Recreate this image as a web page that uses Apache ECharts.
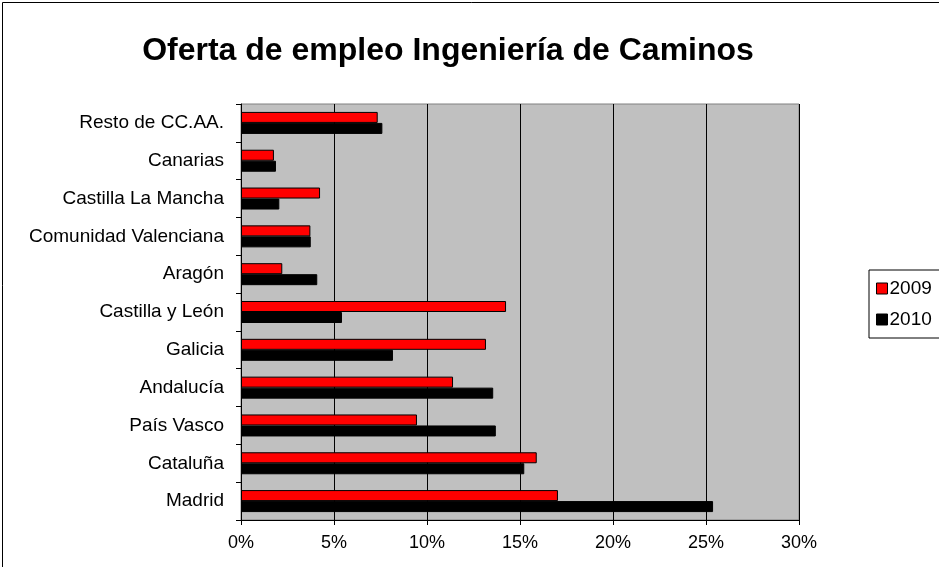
<!DOCTYPE html>
<html>
<head>
<meta charset="utf-8">
<script src="https://cdn.jsdelivr.net/npm/echarts@6/dist/echarts.min.js"></script>
<style>
  html, body { margin: 0; padding: 0; background: #fff; }
  #myChart { width: 939px; height: 567px; }
</style>
</head>
<body>
<div id="myChart"></div>
<script>
// categorias, de arriba a abajo
let regiones = ['Resto de CC.AA.', 'Canarias', 'Castilla La Mancha', 'Comunidad Valenciana', 'Aragón',
    'Castilla y León', 'Galicia', 'Andalucía', 'País Vasco', 'Cataluña', 'Madrid'];
let anios = ['2009', '2010'];
let valores2009 = [7.35, 1.77, 4.25, 3.73, 2.22, 14.25, 13.17, 11.4, 9.46, 15.9, 17.04];
let valores2010 = [7.6, 1.88, 2.06, 3.75, 4.1, 5.43, 8.17, 13.56, 13.7, 15.23, 25.38];
let ticksX = [0, 5, 10, 15, 20, 25, 30];

let myChart = echarts.init(document.getElementById('myChart'));
let fuente = 'Liberation Sans, Arial, sans-serif';

let option = {
    backgroundColor: '#fff',
    animation: false,
    title: {
        text: 'Oferta de empleo Ingeniería de Caminos',
        left: 443,
        textAlign: 'center',
        top: 30,
        textStyle: { fontFamily: fuente, fontSize: 32, fontWeight: 'bold', color: '#000' }
    },
    legend: {
        data: anios,
        orient: 'vertical',
        left: 869,
        top: 270,
        padding: [9, 30, 9, 7],
        icon: 'rect',
        itemWidth: 11,
        itemHeight: 11,
        itemGap: 12,
        borderColor: '#000',
        borderWidth: 1,
        backgroundColor: '#fff',
        itemStyle: { borderColor: '#000', borderWidth: 1 },
        textStyle: { fontFamily: fuente, fontSize: 19, color: '#000', padding: [0, 0, 0, -3] }
    },
    grid: {
        left: 241,
        right: 140,
        top: 104,
        bottom: 47,
        show: true,
        backgroundColor: '#c0c0c0',
        borderColor: '#808080',
        borderWidth: 1
    },
    xAxis: {
        type: 'value',
        min: ticksX[0],
        max: ticksX[ticksX.length - 1],
        interval: 5,
        axisLine: { show: true, lineStyle: { color: '#000' } },
        axisTick: { show: true, length: 5, lineStyle: { color: '#000' } },
        splitLine: { show: true, lineStyle: { color: '#000', width: 1 } },
        axisLabel: {
            formatter: '{value}%',
            margin: 14,
            fontFamily: fuente,
            fontSize: 18,
            color: '#000'
        }
    },
    yAxis: {
        type: 'category',
        data: regiones,
        inverse: true,
        axisLine: { show: true, lineStyle: { color: '#000' } },
        axisTick: { show: true, length: 5, inside: false, lineStyle: { color: '#000' } },
        axisLabel: { margin: 17, fontFamily: fuente, fontSize: 19, color: '#000' }
    },
    series: [
        {
            name: anios[0],
            type: 'bar',
            data: valores2009,
            barWidth: 11,
            barGap: '0%',
            itemStyle: { color: '#ff0000', borderColor: '#000', borderWidth: 1 }
        },
        {
            name: anios[1],
            type: 'bar',
            data: valores2010,
            barWidth: 11,
            barGap: '0%',
            itemStyle: { color: '#000', borderColor: '#000', borderWidth: 1 }
        }
    ],
    graphic: [
        {
            type: 'rect',
            shape: { x: 2.5, y: 2.5, width: 960, height: 600 },
            style: { fill: 'none', stroke: '#000', lineWidth: 1 },
            silent: true
        }
    ]
};

myChart.setOption(option);
</script>
</body>
</html>
